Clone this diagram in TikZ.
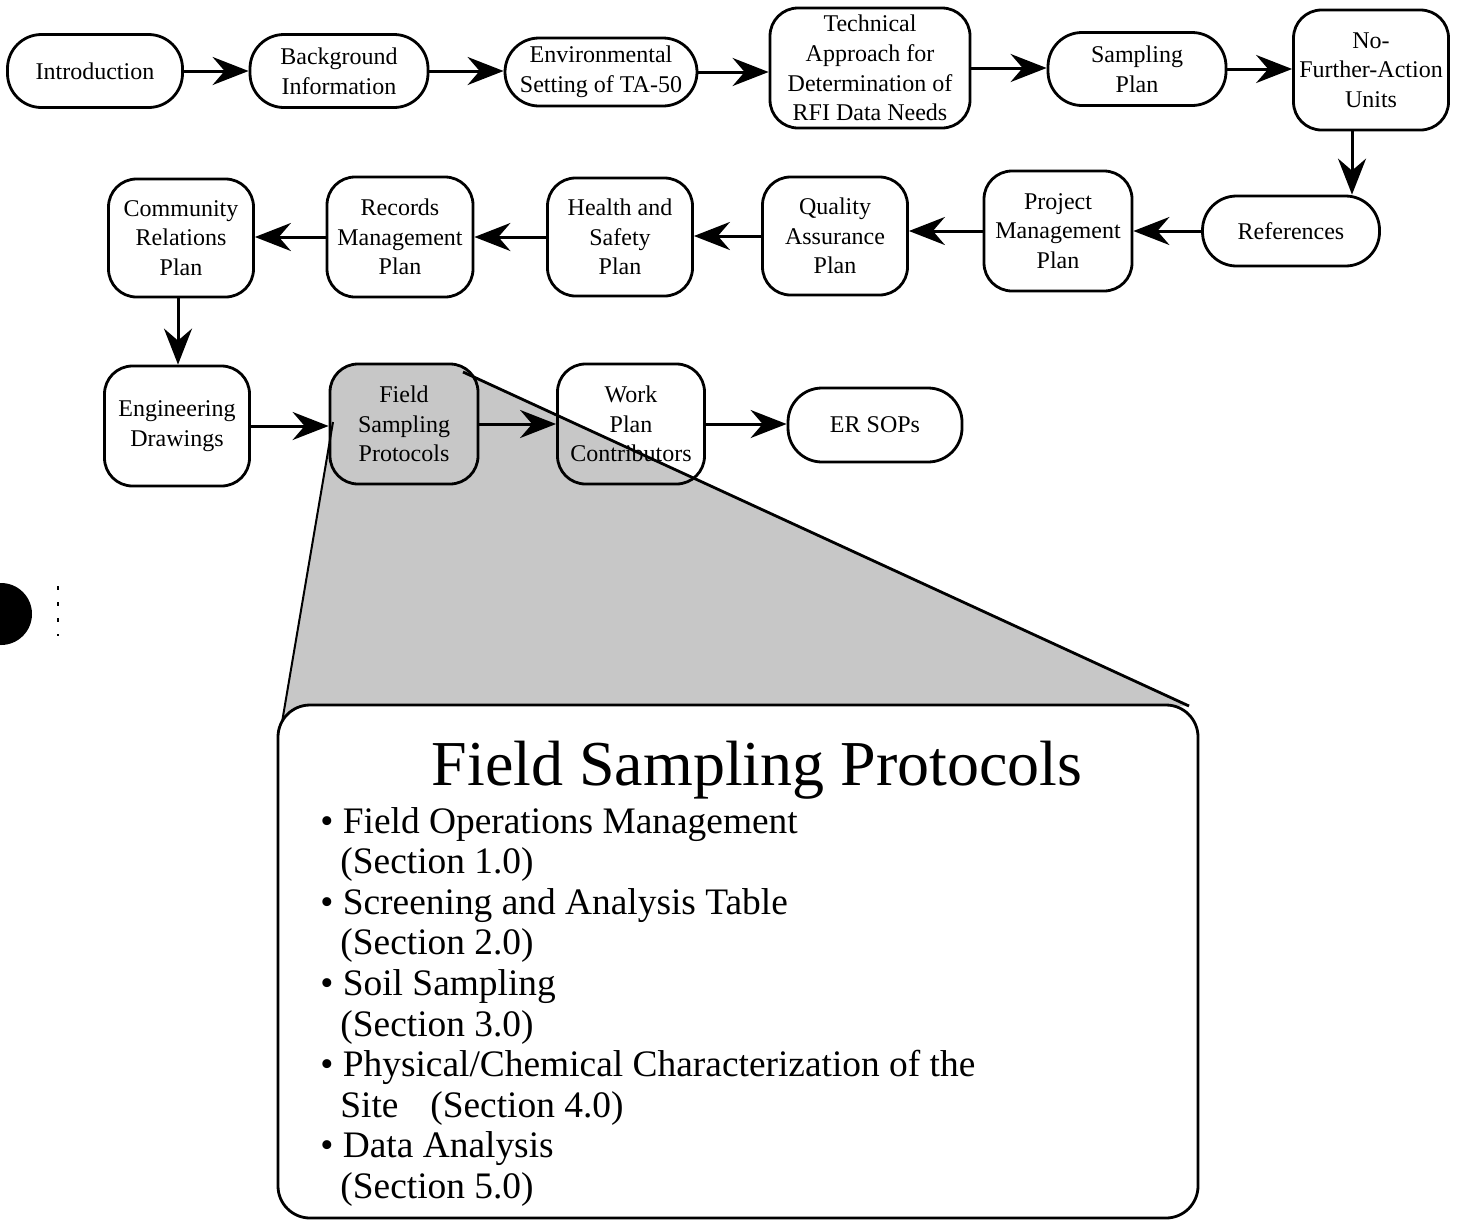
\documentclass[tikz,border=0pt]{standalone}
\usepackage{fontspec}
\setmainfont{Liberation Serif}
\usetikzlibrary{arrows.meta}
\begin{document}
\begin{tikzpicture}[x=0.5pt,y=-0.5pt,
  box/.style={draw, line width=1.4pt, align=center, inner sep=0pt, font=\fontsize{12}{14.8}\selectfont},
  rr/.style={box, rounded corners=14pt},
  stad/.style={box, rounded corners=17pt},
  arr/.style={line width=1.5pt, -{Stealth[length=18pt,width=14pt,inset=6pt]}},
  shade/.style={fill=black!22},
  rim/.style={line width=1.4pt},
  bl/.style={font=\fontsize{18.7}{20.3}\selectfont, anchor=base west, inner sep=0pt},
]
\useasboundingbox (0,0) rectangle (1460,1221);

% shaded magnification wedge
\coordinate (sl) at (333,422);
\coordinate (sr) at (463,372);
\coordinate (br) at (1189,706);
\coordinate (bl) at (279,740);
\fill[shade] (sl) -- (sr) -- (br) -- (300,706) -- (bl) -- cycle;

% row 1
\node[stad, minimum width=87.5pt, minimum height=36.5pt] (intro) at (95,71) {Introduction};
\node[stad, minimum width=89pt, minimum height=36.5pt] (bg) at (339,71) {Background\\Information};
\node[stad, minimum width=96pt, minimum height=34pt] (env) at (601,72) {Environmental\\Setting of TA-50};
\node[rr, minimum width=100pt, minimum height=60pt] (tech) at (870,68) {Technical\\Approach for\\Determination of\\RFI Data Needs};
\node[stad, minimum width=89pt, minimum height=36.5pt] (samp) at (1137,69) {Sampling\\Plan};
\node[rr, minimum width=77.5pt, minimum height=60pt] (nfa) at (1371,70) {No-\\Further-Action\\Units};

% row 2
\node[stad, minimum width=88.5pt, minimum height=35pt] (ref) at (1291,231) {References};
\node[rr, minimum width=74pt, minimum height=60pt] (pmp) at (1058,231) {Project\\Management\\Plan};
\node[rr, minimum width=72.5pt, minimum height=59pt] (qap) at (835,236) {Quality\\Assurance\\Plan};
\node[rr, minimum width=72.5pt, minimum height=59pt] (hsp) at (620,237) {Health and\\Safety\\Plan};
\node[rr, minimum width=73pt, minimum height=60pt] (rmp) at (400,237) {Records\\Management\\Plan};
\node[rr, minimum width=72.5pt, minimum height=59pt] (crp) at (181,238) {Community\\Relations\\Plan};

% row 3
\node[rr, minimum width=72.5pt, minimum height=60pt] (eng) at (177,426) {Engineering\\Drawings};
\node[rr, shade, minimum width=74pt, minimum height=60pt] (fsp) at (404,424) {Field\\Sampling\\Protocols};
\node[rr, minimum width=73.5pt, minimum height=60pt] (wpc) at (631,424) {Work\\Plan\\Contributors};
\node[stad, minimum width=87pt, minimum height=37pt] (er) at (875,425) {ER SOPs};

% connectors
\draw[arr] (intro.east) -- (bg.west);
\draw[arr] (bg.east) -- (bg.east -| env.west);
\draw[arr] (env.east) -- (env.east -| tech.west);
\draw[arr] (tech.east) -- (tech.east -| samp.west);
\draw[arr] (samp.east) -- (samp.east -| nfa.west);
\draw[arr] ([xshift=-9.5pt]nfa.south) -- ([xshift=-9.5pt]nfa.south |- ref.north);
\draw[arr] (ref.west) -- (ref.west -| pmp.east);
\draw[arr] (pmp.west) -- (pmp.west -| qap.east);
\draw[arr] (qap.west) -- (qap.west -| hsp.east);
\draw[arr] (hsp.west) -- (hsp.west -| rmp.east);
\draw[arr] (rmp.west) -- (rmp.west -| crp.east);
\draw[arr] ([xshift=-1.5pt]crp.south) -- ([xshift=-1.5pt]crp.south |- eng.north);
\draw[arr] (eng.east) -- (eng.east -| fsp.west);
\draw[arr] (fsp.east) -- (fsp.east -| wpc.west);
\draw[arr] (wpc.east) -- (wpc.east -| er.west);

% wedge outlines
\draw[line width=1pt] (sl) -- (bl);
\draw[rim] (sr) -- (br);

% magnified box
\node[draw, fill=white, line width=1.4pt, rounded corners=16pt, minimum width=460pt, minimum height=256.5pt, inner sep=0pt] (zoombox) at (738,961.5) {};
\node[font=\fontsize{32}{38}\selectfont, anchor=base, inner sep=0pt] (title) at (757,785) {Field Sampling Protocols};
\node[bl] (l1) at (320,833) {\textbullet\ Field Operations Management};
\node[bl] (l2) at (340,873.6) {(Section 1.0)};
\node[bl] (l3) at (320,914.2) {\textbullet\ Screening and Analysis Table};
\node[bl] (l4) at (340,954.8) {(Section 2.0)};
\node[bl] (l5) at (320,995.4) {\textbullet\ Soil Sampling};
\node[bl] (l6) at (340,1036) {(Section 3.0)};
\node[bl] (l7) at (320,1076.6) {\textbullet\ Physical/Chemical Characterization of the};
\node[bl] (l8) at (340,1117.2) {Site\hspace{0.85em}(Section 4.0)};
\node[bl] (l9) at (320,1157.8) {\textbullet\ Data Analysis};
\node[bl] (l10) at (340,1198.4) {(Section 5.0)};

% margin marks
\fill (1,614) circle (15.5pt);
\draw[line width=0.6pt, dash pattern=on 2pt off 6pt] (58,586) -- (58,636);
\end{tikzpicture}
\end{document}
